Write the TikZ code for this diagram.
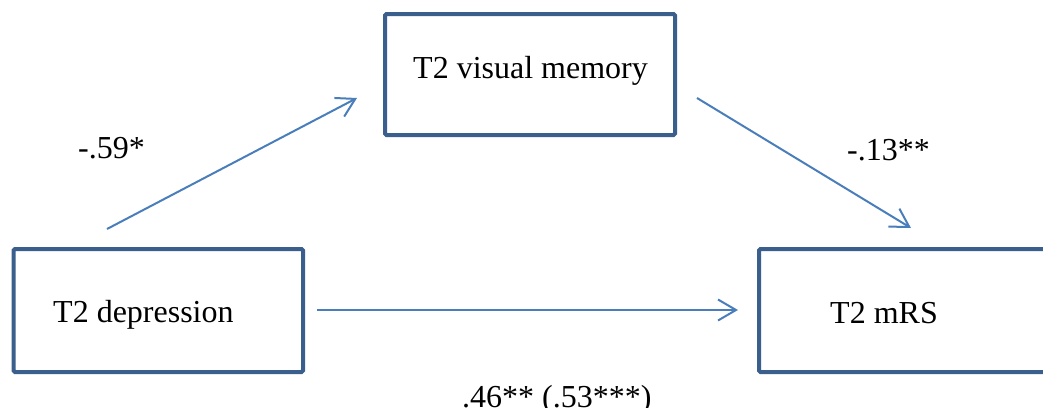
\documentclass[tikz,border=0pt]{standalone}
\usepackage{fontspec}
\setmainfont{Liberation Serif}
\usetikzlibrary{arrows.meta}
\definecolor{boxline}{HTML}{3A5F8C}
\definecolor{arrowline}{HTML}{4A7EBB}
\tikzset{
  varbox/.style={draw=boxline, line width=4pt, rounded corners=1.5pt, fill=white},
  lbl/.style={inner sep=0pt, anchor=base west, font=\fontsize{32}{38}\selectfont},
  path/.style={draw=arrowline, line width=2pt,
    -{Straight Barb[length=18pt, width=21pt, line width=2pt]}}
}
\begin{document}
\begin{tikzpicture}[x=1pt, y=-1pt]
  \useasboundingbox (0,0) rectangle (1043,407);
  \clip (0,0) rectangle (1043,407);
  % boxes of the three variables
  \draw[varbox] (13.5,249) rectangle (303,372);
  \node[coordinate] (dep) at (158,310) {};
  \draw[varbox] (385,14) rectangle (675,135);
  \node[coordinate] (mem) at (530,74) {};
  \draw[varbox] (759,249) rectangle (1060,372);
  \node[coordinate] (mrs) at (900,310) {};
  % box texts
  \node[lbl] (tdep) at (53,322) {T2 depression};
  \node[lbl] (tmem) at (413,78) {T2 visual memory};
  \node[lbl] (tmrs) at (830,323) {T2 mRS};
  % connector end points
  \coordinate (a1) at (107,229);
  \coordinate (a2) at (357,98);
  \coordinate (b1) at (697,98);
  \coordinate (b2) at (911,228);
  \coordinate (c1) at (317,310);
  \coordinate (c2) at (738,310);
  \draw[path] (a1) -- (a2);
  \draw[path] (b1) -- (b2);
  \draw[path] (c1) -- (c2);
  % path coefficients
  \node[lbl] (pa) at (78,158) {-.59*};
  \node[lbl] (pb) at (847,160) {-.13**};
  \node[lbl] (pc) at (462,407) {.46** (.53***)};
\end{tikzpicture}
\end{document}
